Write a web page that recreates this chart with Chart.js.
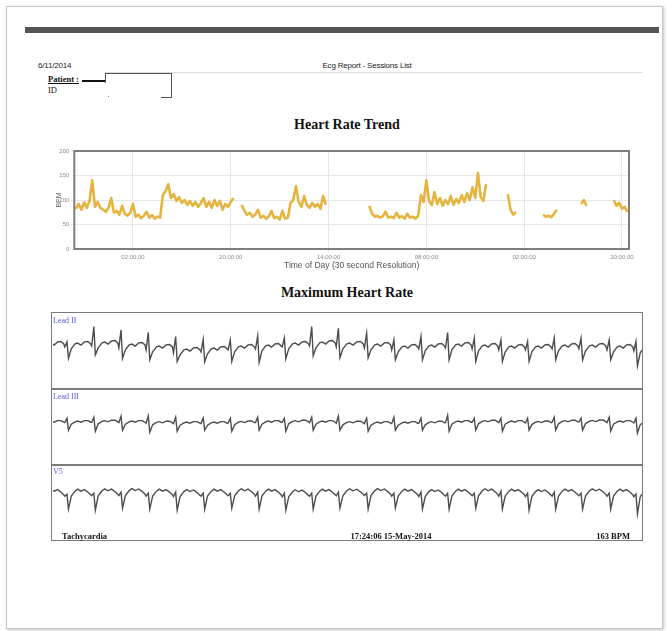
<!DOCTYPE html>
<html>
<head>
<meta charset="utf-8">
<title>Ecg Report - Sessions List</title>
<script src="https://cdn.jsdelivr.net/npm/chart.js@4.4.1/dist/chart.umd.min.js"></script>
<style>
  html, body { margin: 0; padding: 0; background: #fff; }
  #page { position: relative; width: 672px; height: 631px; overflow: hidden; background: #fff; }
  .sheet { position: absolute; left: 6px; top: 6px; width: 655px; height: 621px; border: 1px solid #c6c6c6; box-shadow: 1px 1px 3px rgba(0,0,0,0.25); }
  .bar { position: absolute; left: 25px; top: 27px; width: 634px; height: 6px; background: #555; }
  .t { position: absolute; white-space: nowrap; line-height: 1; }
  .sans { font-family: "Liberation Sans", Arial, sans-serif; font-size: 8px; color: #222; letter-spacing: -0.2px; }
  .serif { font-family: "Liberation Serif", "Times New Roman", serif; color: #111; }
  .line { position: absolute; background: #555; }
  .title { font-size: 14px; font-weight: bold; width: 300px; text-align: center; }
  .lead { font-size: 8px; color: #5757e6; }
  .foot { font-size: 8.5px; font-weight: bold; }
  canvas { position: absolute; }
</style>
</head>
<body>
<div id="page">
  <div class="sheet"></div>
  <div class="bar"></div>

  <!-- report header -->
  <div class="t sans" style="left:38px; top:62px;">6/11/2014</div>
  <div class="t sans" style="left:267px; top:62px; width:200px; text-align:center;">Ecg Report - Sessions List</div>
  <div class="line" style="left:105px; top:72px; width:538px; height:1px; background:#dcdcdc;"></div>
  <div class="t serif" style="left:48px; top:75px; font-size:8.5px; font-weight:bold; text-decoration:underline;">Patient :</div>
  <div class="line" style="left:82px; top:80px; width:23px; height:1.5px; background:#111;"></div>
  <div class="line" style="left:105px; top:72.5px; width:66px; height:1px;"></div>
  <div class="line" style="left:105px; top:72.5px; width:1px; height:10px;"></div>
  <div class="line" style="left:170.5px; top:72.5px; width:1px; height:25.5px;"></div>
  <div class="line" style="left:160.5px; top:97px; width:11px; height:1px;"></div>
  <div class="line" style="left:108px; top:96px; width:1px; height:1px; background:#888;"></div>
  <div class="t serif" style="left:48px; top:86px; font-size:8.5px;">ID</div>

  <div class="t serif title" style="left:197px; top:118px;">Heart Rate Trend</div>
  <canvas id="trend" width="612" height="140" style="left:30px; top:140px;"></canvas>

  <div class="t serif title" style="left:197px; top:286px;">Maximum Heart Rate</div>
  <div class="line" style="left:51px; top:311.5px; width:592px; height:229px; background:none; border:1.5px solid #7a7a7a; box-sizing:border-box;"></div>
  <div class="line" style="left:51px; top:388px; width:592px; height:1.5px; background:#7a7a7a;"></div>
  <div class="line" style="left:51px; top:464px; width:592px; height:1.5px; background:#7a7a7a;"></div>
  <canvas id="ecg" width="589" height="226" style="left:53px; top:313px;"></canvas>
  <div class="t serif lead" style="left:53px; top:316.5px;">Lead II</div>
  <div class="t serif lead" style="left:53px; top:392.5px;">Lead III</div>
  <div class="t serif lead" style="left:53px; top:468px;">V5</div>
  <div class="t serif foot" style="left:62px; top:532px;">Tachycardia</div>
  <div class="t serif foot" style="left:291px; top:532px; width:200px; text-align:center;">17:24:06 15-May-2014</div>
  <div class="t serif foot" style="left:530px; top:532px; width:100px; text-align:right;">163 BPM</div>
</div>

<script>
// ----------------- Heart rate trend data ------------------------//

// hours since midnight of the first day, one sample every half hour
const trendStart = 15.5
const trendStep = 0.5
const trendMin = 15.2
const trendMax = 117.3

// x ticks every 18 hours
const trendTickHours = [26, 44, 62, 80, 98, 116]
const trendTickLabels = ['02:00:00', '20:00:00', '14:00:00', '08:00:00', '02:00:00', '20:00:00']

// BPM read off the trend, null where there is no recording
const trendBpm = [
  82, 92, 80, 95, 84, 98, 140, 86, 96, 84, 80, 76, 84, 104, 74, 78, 70, 88, 72, 68, 74, 92, 66, 70, 63, 68, 76, 64, 69, 62, 66, 64,
  110, 118, 132, 104, 112, 98, 106, 94, 100, 90, 98, 88, 96, 86, 94, 104, 86, 96, 84, 100, 88, 98, 80, 92, 86, 96, 104,
  null, null,
  90, 78, 70, 74, 66, 70, 80, 64, 68, 62, 66, 78, 63, 66, 60, 78, 62, 64, 94, 100, 128, 96, 86, 108, 90, 84, 94, 86, 92, 82, 108, 90,
  null, null, null, null, null, null, null, null, null, null, null, null, null, null, null,
  88, 72, 66, 68, 64, 67, 76, 64, 66, 63, 74, 64, 67, 62, 72, 64, 66, 62, 68, 110,
  96, 140, 98, 90, 116, 92, 104, 88, 100, 92, 108, 90, 102, 94, 110, 96, 114, 100, 126, 104, 155, 106, 98, 132,
  null, null, null, null, null, null, null,
  112, 80, 70, 76,
  null, null, null, null, null, null, null, null, null,
  70, 66, 68, 65, 72, 80,
  null, null, null, null, null, null, null, null,
  92, 100, 88,
  null, null, null, null, null, null, null, null, null,
  100, 88, 94, 82, 86, 76,
]

// ----------------- ECG strip data (8 seconds, 163 BPM) ------------------------//

// R peak times in ms
const ecgRTimes = [190, 555, 924, 1294, 1666, 2040, 2408, 2780, 3142, 3514, 3876, 4260, 4630, 4998, 5360, 5722, 6084, 6446, 6808, 7172, 7555, 7918]

// beat shape: position in the RR interval, R and S slots are taken per beat
const ecgPhase = [-0.08, 0, 0.055, 0.16, 0.3, 0.4, 0.52, 0.65, 0.78, 0.88]
const leadIIWave = [0.15, null, null, 0.05, 0.3, 0.34, 0.24, 0.4, 0.42, 0.3]
const leadIIIWave = [0.08, null, null, 0.0, 0.12, 0.16, 0.1, 0.18, 0.18, 0.1]
const v5Wave = [0.05, null, null, 0.05, 0.3, 0.4, 0.3, 0.38, 0.25, 0.12]

// per beat R top, S bottom and baseline shift (mV)
const leadIIR = [0.3, 1.07, 0.9, 0.78, 0.57, 0.43, 0.4, 0.6, 0.49, 1.07, 0.98, 0.73, 0.4, 0.57, 0.77, 0.49, 0.4, 0.32, 0.49, 0.49, 0.4, 0.32]
const leadIIS = [-0.52, -0.35, -0.52, -0.6, -0.68, -0.7, -0.68, -0.72, -0.55, -0.4, -0.5, -0.5, -0.6, -0.6, -0.6, -0.68, -0.68, -0.68, -0.6, -0.6, -0.6, -0.9]
const leadIIBase = [-0.1, -0.05, -0.15, -0.25, -0.4, -0.35, -0.25, -0.2, -0.1, -0.05, -0.1, -0.15, -0.25, -0.2, -0.15, -0.2, -0.25, -0.25, -0.2, -0.2, -0.25, -0.3]

const leadIIIR = [0.3, 0.35, 0.4, 0.42, 0.35, 0.3, 0.3, 0.35, 0.3, 0.35, 0.4, 0.3, 0.35, 0.3, 0.45, 0.3, 0.3, 0.3, 0.35, 0.3, 0.35, 0.3]
const leadIIIS = [-0.3, -0.35, -0.3, -0.4, -0.35, -0.3, -0.35, -0.3, -0.35, -0.3, -0.3, -0.35, -0.3, -0.3, -0.35, -0.3, -0.35, -0.3, -0.3, -0.3, -0.35, -0.45]
const leadIIIBase = [0, 0.02, 0, -0.03, -0.05, -0.05, -0.02, 0, 0.02, 0, -0.03, -0.05, -0.05, -0.03, 0, 0.02, 0, -0.02, 0.02, 0.03, 0, -0.02]

const v5R = [0.15, 0.2, 0.25, 0.2, 0.25, 0.2, 0.2, 0.25, 0.2, 0.2, 0.25, 0.2, 0.2, 0.25, 0.2, 0.2, 0.3, 0.2, 0.25, 0.2, 0.2, 0.15]
const v5S = [-0.6, -0.65, -0.55, -0.6, -0.65, -0.6, -0.55, -0.6, -0.65, -0.6, -0.55, -0.6, -0.55, -0.6, -0.6, -0.55, -0.6, -0.65, -0.6, -0.6, -0.6, -0.85]
const v5Base = [0, 0.02, 0.03, 0, -0.02, 0, 0.02, 0, -0.03, 0, 0.02, 0.03, 0, -0.02, 0, 0.02, 0, -0.02, 0, 0.02, 0, -0.03]

Chart.defaults.font.family = '"Liberation Sans", Arial, sans-serif'
Chart.defaults.animation = false

// stroke a frame round the plot area
const plotFrame = {
  id: 'plotFrame',
  afterDraw(chart) {
    const { ctx, chartArea: a } = chart
    ctx.save()
    ctx.strokeStyle = '#7d7d7d'
    ctx.lineWidth = 2
    ctx.strokeRect(a.left, a.top, a.right - a.left, a.bottom - a.top)
    ctx.restore()
  },
}

const drawTrend = () => {
  const points = trendBpm.map((v, i) => ({ x: trendStart + i * trendStep, y: v }))

  new Chart(document.getElementById('trend'), {
    type: 'line',
    data: {
      datasets: [
        {
          data: points,
          borderColor: '#e4b43e',
          borderWidth: 2.6,
          borderJoinStyle: 'round',
          pointRadius: 0,
          tension: 0,
          spanGaps: false,
        },
      ],
    },
    options: {
      responsive: false,
      layout: { padding: { top: 11, right: 13, left: 0, bottom: 0 } },
      plugins: { legend: { display: false }, tooltip: { enabled: false } },
      scales: {
        x: {
          type: 'linear',
          min: trendMin,
          max: trendMax,
          afterBuildTicks: (axis) => {
            axis.ticks = trendTickHours.map((h) => ({ value: h }))
          },
          afterFit: (axis) => {
            axis.height = 31
          },
          ticks: {
            callback: (v, i) => trendTickLabels[i],
            font: { size: 6 },
            color: '#8a8a8a',
            padding: 2,
            maxRotation: 0,
            autoSkip: false,
          },
          grid: { color: '#e6e6e6', tickLength: 3 },
          border: { display: false },
          title: {
            display: true,
            text: 'Time of Day (30 second Resolution)',
            font: { size: 8.5 },
            color: '#555',
            padding: { top: 0, bottom: 9 },
          },
        },
        y: {
          min: 0,
          max: 200,
          afterFit: (axis) => {
            axis.width = 44.3
          },
          ticks: { stepSize: 50, font: { size: 6 }, color: '#8a8a8a', padding: 2 },
          grid: { color: '#e6e6e6', tickLength: 3 },
          border: { display: false },
          title: {
            display: true,
            text: 'BPM',
            font: { size: 7 },
            color: '#666',
            padding: { top: 25, bottom: 0 },
          },
        },
      },
    },
    plugins: [plotFrame],
  })
}

// lay the beat shape on each R peak of a lead
const buildLead = (wave, rTop, sBottom, base) => {
  const pts = []
  const n = ecgRTimes.length
  // tail of the cycle before the first beat
  const firstRR = ecgRTimes[1] - ecgRTimes[0]
  ecgPhase.forEach((p, j) => {
    if (p >= 0.3) pts.push({ x: ecgRTimes[0] - firstRR + p * firstRR, y: wave[j] + base[0] })
  })
  for (let i = 0; i < n; i++) {
    const t0 = ecgRTimes[i]
    const prev = i > 0 ? t0 - ecgRTimes[i - 1] : firstRR
    const next = i < n - 1 ? ecgRTimes[i + 1] - t0 : prev
    ecgPhase.forEach((p, j) => {
      const t = t0 + p * (p < 0 ? prev : next)
      let v
      if (j === 1) v = rTop[i]
      else if (j === 2) v = sBottom[i]
      else v = wave[j] + base[i]
      pts.push({ x: t, y: v })
    })
  }
  return pts
}

const drawEcg = () => {
  const trace = (data, axis) => ({
    data: data,
    yAxisID: axis,
    borderColor: '#4d4d4d',
    borderWidth: 1.4,
    pointRadius: 0,
    tension: 0,
  })
  const lane = (min, max) => ({
    type: 'linear',
    min: min,
    max: max,
    stack: 'leads',
    stackWeight: 1,
    position: 'left',
    ticks: { display: false },
    grid: { display: false, drawTicks: false },
    border: { display: false },
  })

  new Chart(document.getElementById('ecg'), {
    type: 'line',
    data: {
      datasets: [
        trace(buildLead(leadIIWave, leadIIR, leadIIS, leadIIBase), 'yII'),
        trace(buildLead(leadIIIWave, leadIIIR, leadIIIS, leadIIIBase), 'yIII'),
        trace(buildLead(v5Wave, v5R, v5S, v5Base), 'yV5'),
      ],
    },
    options: {
      responsive: false,
      layout: { padding: 0 },
      plugins: { legend: { display: false }, tooltip: { enabled: false } },
      scales: {
        x: { type: 'linear', min: 0, max: 8000, display: false },
        // stacked lanes are laid out bottom first
        yV5: lane(-2.1, 1.68),
        yIII: lane(-1.98, 1.8),
        yII: lane(-2.03, 1.75),
      },
    },
  })
}

drawTrend()
drawEcg()
</script>
</body>
</html>
